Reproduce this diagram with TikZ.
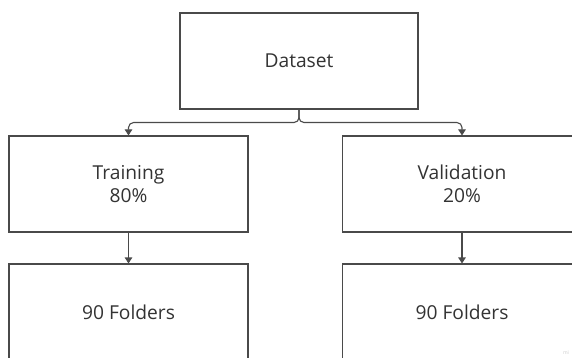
\documentclass[tikz,border=0pt]{standalone}
\usepackage{fontspec}
\setmainfont{Open Sans}
\usetikzlibrary{arrows.meta}
\definecolor{edge}{HTML}{4A4A4A}
\definecolor{ink}{HTML}{333333}
\tikzset{
  box/.style={draw=edge, line width=1.1pt, fill=white, minimum width=239pt,
    minimum height=96pt, inner sep=0pt, text=ink, align=center,
    font=\fontsize{19.2}{23}\selectfont},
  conn/.style={draw=edge, line width=1.1pt, rounded corners=5pt,
    -{Triangle[width=7.5pt,length=6pt]}},
}
\begin{document}
\begin{tikzpicture}[x=1pt,y=-1pt]
  \useasboundingbox (0,0) rectangle (572,358);
  \clip (0,0) rectangle (572,358);
  \fill[white] (0,0) rectangle (572,358);
  \node[box, minimum width=238pt] (ds) at (299,61) {Dataset};
  \node[box] (tr) at (128.5,184) {Training\\80\%};
  \node[box] (va) at (462,184) {Validation\\20\%};
  \node[box] (trf) at (128.5,312) {90 Folders};
  \node[box] (vaf) at (462,312) {90 Folders};
  \draw[conn] (ds.south) -- ++(0,13) -| (tr.north);
  \draw[conn] (ds.south) -- ++(0,13) -| (va.north);
  \draw[conn] (tr.south) -- (trf.north);
  \draw[conn] (va.south) -- (vaf.north);
  \node[text=black!20, font=\fontsize{5}{6}\selectfont, inner sep=0pt] (wm) at (566,353) {mi};
\end{tikzpicture}
\end{document}
